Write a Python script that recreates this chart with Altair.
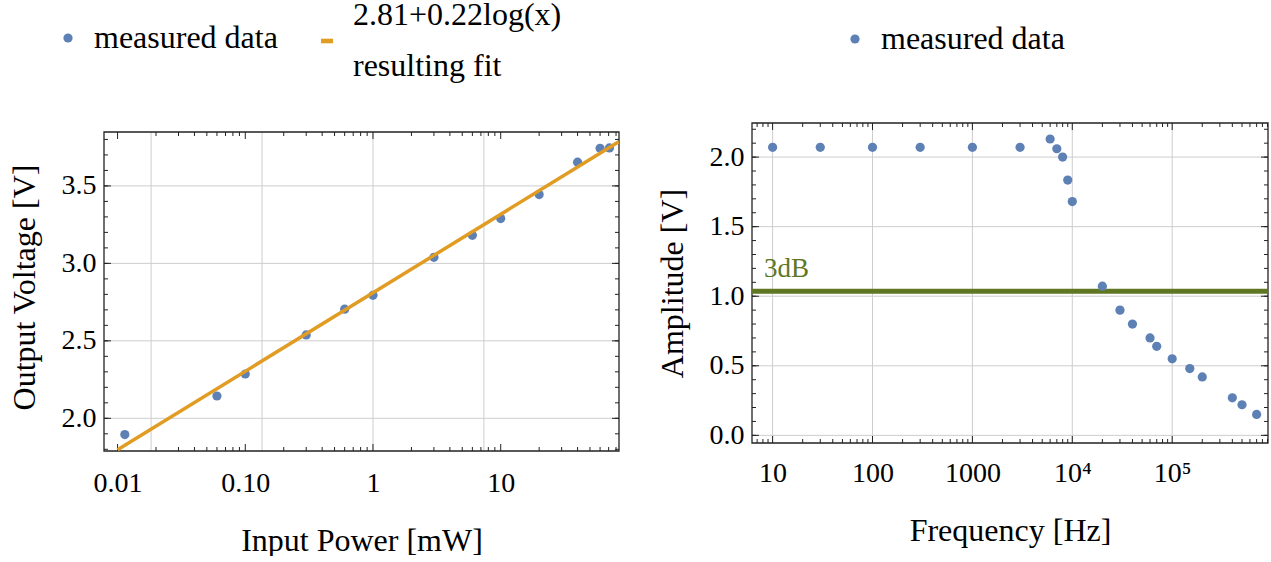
import altair as alt
import pandas as pd

FONT = "Liberation Serif"
BLUE = "#5e81b5"
ORANGE = "#e19c24"
GREEN = "#5f7722"
GRID = "#cdcdcd"
FRAME = "#222222"
LEGEND_FS = 32

# ---------------- left panel data ----------------
power_mw = [0.0114, 0.06, 0.1, 0.3, 0.6, 1, 3, 6, 10, 20, 40, 60, 71]
voltage_v = [1.895, 2.144, 2.286, 2.538, 2.704, 2.794, 3.039, 3.181, 3.289,
             3.444, 3.653, 3.743, 3.745]
fit_power = [0.01, 84.0]
fit_voltage = [1.797, 3.785]
fit_formula = "2.81+0.22log(x)"
series_names = ["measured data", "resulting fit"]

left_x_domain = [0.00783, 84.4]
left_y_domain = [1.789, 3.906]
left_frame_y = [1.789, 3.848]
left_x_major = [0.01, 0.1, 1, 10]
left_x_labels = ["0.01", "0.10", "1", "10"]
left_x_minor = [m * 10.0 ** k for k in range(-2, 2) for m in range(2, 10)
                if m * 10.0 ** k < left_x_domain[1]]
left_y_major = [2.0, 2.5, 3.0, 3.5]
left_y_minor = [round(1.8 + 0.1 * i, 1) for i in range(21)]
left_grid_x = [0.0183, 0.1353, 1.0, 7.389]
left_grid_y = [2.0, 2.5, 3.0, 3.5]

# ---------------- right panel data ----------------
freq_hz = [10, 30, 100, 300, 1000, 3000, 6000, 7000, 8000, 9000, 10000,
           20000, 30000, 40000, 60000, 70000, 100000, 150000, 200000,
           400000, 500000, 700000]
amplitude_v = [2.07, 2.07, 2.07, 2.07, 2.07, 2.07, 2.13, 2.06, 2.0, 1.835,
               1.68, 1.072, 0.90, 0.80, 0.70, 0.64, 0.55, 0.48, 0.42, 0.27,
               0.22, 0.15]
level_3db = [1.035]
label_3db = ["3dB"]
label_3db_pos = [8.2, 1.137]

right_x_domain = [6.22, 910000]
right_y_domain = [-0.055, 2.245]
right_x_major = [10, 100, 1000, 10000, 100000]
right_x_labels = ["10", "100", "1000", "10\u2074", "10\u2075"]
right_x_minor = [m * 10.0 ** k for k in range(0, 6) for m in range(2, 10)
                 if right_x_domain[0] < m * 10.0 ** k < right_x_domain[1]]
right_y_major = [0.0, 0.5, 1.0, 1.5, 2.0]
right_y_minor = [round(0.1 * i, 1) for i in range(23)]
right_grid_x = [10, 100, 1000, 10000, 100000]
right_grid_y = [0.0, 0.5, 1.0, 1.5, 2.0]


def label_expr(values, labels):
    vals = ",".join(repr(float(v)) for v in values)
    labs = ",".join("'" + l + "'" for l in labels)
    return f"[{labs}][indexof([{vals}], datum.value)]"


def make_panel(xs, ys, xtitle, ytitle, xaxis, yaxis):
    """Helpers producing identical x/y encodings for every layer."""
    def X(field=None, datum=None):
        if datum is not None:
            return alt.XDatum(datum, type="quantitative", scale=xs,
                              axis=xaxis, title=xtitle)
        return alt.X(field, type="quantitative", scale=xs, axis=xaxis,
                     title=xtitle)

    def Y(field=None, datum=None):
        if datum is not None:
            return alt.YDatum(datum, type="quantitative", scale=ys,
                              axis=yaxis, title=ytitle)
        return alt.Y(field, type="quantitative", scale=ys, axis=yaxis,
                     title=ytitle)
    return X, Y


def frame_layers(X, Y, fx, fy, x_major, x_minor, y_major, y_minor, gx, gy):
    layers = []
    layers.append(alt.Chart(pd.DataFrame({"g": gx})).mark_rule(
        color=GRID, strokeWidth=1).encode(
        x=X("g"), y=Y(datum=fy[0]), y2=alt.Y2Datum(fy[1])))
    layers.append(alt.Chart(pd.DataFrame({"g": gy})).mark_rule(
        color=GRID, strokeWidth=1).encode(
        y=Y("g"), x=X(datum=fx[0]), x2=alt.X2Datum(fx[1])))
    for vals, ln in ((x_major, 7), (x_minor, 4)):
        d = pd.DataFrame({"t": vals})
        for yv, off in ((fy[0], -ln / 2), (fy[1], ln / 2)):
            layers.append(alt.Chart(d).mark_tick(
                orient="vertical", size=ln, thickness=1, color=FRAME,
                opacity=1, yOffset=off).encode(x=X("t"), y=Y(datum=yv)))
    for vals, ln in ((y_major, 7), (y_minor, 4)):
        d = pd.DataFrame({"t": vals})
        for xv, off in ((fx[0], ln / 2), (fx[1], -ln / 2)):
            layers.append(alt.Chart(d).mark_tick(
                orient="horizontal", size=ln, thickness=1, color=FRAME,
                opacity=1, xOffset=off).encode(y=Y("t"), x=X(datum=xv)))
    layers.append(alt.Chart(pd.DataFrame({"a": [0]})).mark_rect(
        fillOpacity=0, stroke=FRAME, strokeWidth=1.3).encode(
        x=X(datum=fx[0]), x2=alt.X2Datum(fx[1]),
        y=Y(datum=fy[0]), y2=alt.Y2Datum(fy[1])))
    return layers


def dot_legend(x, y):
    return alt.Legend(
        title=None, orient="none", legendX=x, legendY=y, padding=0,
        labelFont=FONT, labelFontSize=LEGEND_FS, labelColor="black",
        labelLimit=600, labelOffset=10, symbolSize=85, symbolOpacity=1,
        symbolStrokeWidth=0, symbolType="circle")


# ---------------- left panel ----------------
lxs = alt.Scale(type="log", domain=left_x_domain, nice=False)
lys = alt.Scale(domain=left_y_domain, nice=False, zero=False)
LX, LY = make_panel(
    lxs, lys, "Input Power [mW]", "Output Voltage [V]",
    alt.Axis(values=left_x_major, labelPadding=18,
             labelExpr=label_expr(left_x_major, left_x_labels)),
    alt.Axis(values=left_y_major, format=".1f"))

left_pts = pd.DataFrame({"p": power_mw, "v": voltage_v,
                         "s": [series_names[0]] * len(power_mw)})
left_fit = pd.DataFrame({"p": fit_power, "v": fit_voltage,
                         "s": [series_names[1]] * len(fit_power)})

left_points = alt.Chart(left_pts).mark_point(
    filled=True, size=85, opacity=1).encode(
    x=LX("p"), y=LY("v"),
    color=alt.Color("s:N", scale=alt.Scale(domain=[series_names[0]],
                                           range=[BLUE]),
                    legend=dot_legend(-52, -101)),
)
left_line = alt.Chart(left_fit).mark_line(
    color=ORANGE, strokeWidth=3.5).encode(
    x=LX("p"), y=LY("v"),
    color=alt.Color("s:N", scale=alt.Scale(domain=[series_names[1]],
                                           range=[ORANGE]),
                    legend=alt.Legend(
                        title=None, orient="none", legendX=207,
                        legendY=-98, padding=0, labelFont=FONT,
                        labelFontSize=LEGEND_FS, labelColor="black",
                        labelLimit=600, labelOffset=10,
                        labelBaseline="line-bottom",
                        symbolType="stroke", symbolSize=144,
                        symbolStrokeWidth=4.6, symbolOpacity=1,
                        labelExpr="['" + fit_formula + "', datum.label]")),
)

left = alt.layer(
    *frame_layers(LX, LY, left_x_domain, left_frame_y, left_x_major,
                  left_x_minor, left_y_major, left_y_minor, left_grid_x,
                  left_grid_y),
    left_points, left_line
).resolve_scale(color="independent").resolve_legend(
    color="independent").properties(width=515, height=328)

# ---------------- right panel ----------------
rxs = alt.Scale(type="log", domain=right_x_domain, nice=False)
rys = alt.Scale(domain=right_y_domain, nice=False, zero=False)
RX, RY = make_panel(
    rxs, rys, "Frequency [Hz]", "Amplitude [V]",
    alt.Axis(values=right_x_major, labelPadding=16,
             labelExpr=label_expr(right_x_major, right_x_labels)),
    alt.Axis(values=right_y_major, format=".1f"))

right_pts = pd.DataFrame({"f": freq_hz, "a": amplitude_v,
                          "s": [series_names[0]] * len(freq_hz)})

right_points = alt.Chart(right_pts).mark_point(
    filled=True, size=85, opacity=1).encode(
    x=RX("f"), y=RY("a"),
    color=alt.Color("s:N", scale=alt.Scale(domain=[series_names[0]],
                                           range=[BLUE]),
                    legend=dot_legend(87, -100)),
)
right_rule = alt.Chart(pd.DataFrame({"l": level_3db})).mark_rule(
    color=GREEN, strokeWidth=5).encode(
    y=RY("l"), x=RX(datum=right_x_domain[0]),
    x2=alt.X2Datum(right_x_domain[1]))
right_text = alt.Chart(pd.DataFrame({"t": label_3db,
                                     "x": [label_3db_pos[0]],
                                     "y": [label_3db_pos[1]]})).mark_text(
    align="left", baseline="alphabetic", font=FONT, fontSize=27,
    color=GREEN).encode(x=RX("x"), y=RY("y"), text="t:N")

right = alt.layer(
    *frame_layers(RX, RY, right_x_domain, right_y_domain, right_x_major,
                  right_x_minor, right_y_major, right_y_minor, right_grid_x,
                  right_grid_y),
    right_rule, right_text, right_points
).properties(width=516, height=320)

chart = alt.hconcat(left, right, spacing=133, bounds="flush").resolve_scale(
    color="independent"
).resolve_legend(
    color="independent"
).properties(
    padding={"left": 8, "top": 22, "right": 0, "bottom": 0},
    background="white"
).configure(
    style={"guide-label": {"lineHeight": 51}}
).configure_view(stroke=None).configure_axis(
    labelFont=FONT, titleFont=FONT, labelFontSize=28, titleFontSize=32,
    labelColor="black", titleColor="black", titleFontWeight="normal",
    grid=False, ticks=False, domain=False, labelOverlap=False,
    labelFlush=False
).configure_axisX(
    titlePadding=28
).configure_axisY(
    labelPadding=8, titlePadding=20
)

chart.save("out.html", embed_options={"renderer": "svg", "actions": False})
